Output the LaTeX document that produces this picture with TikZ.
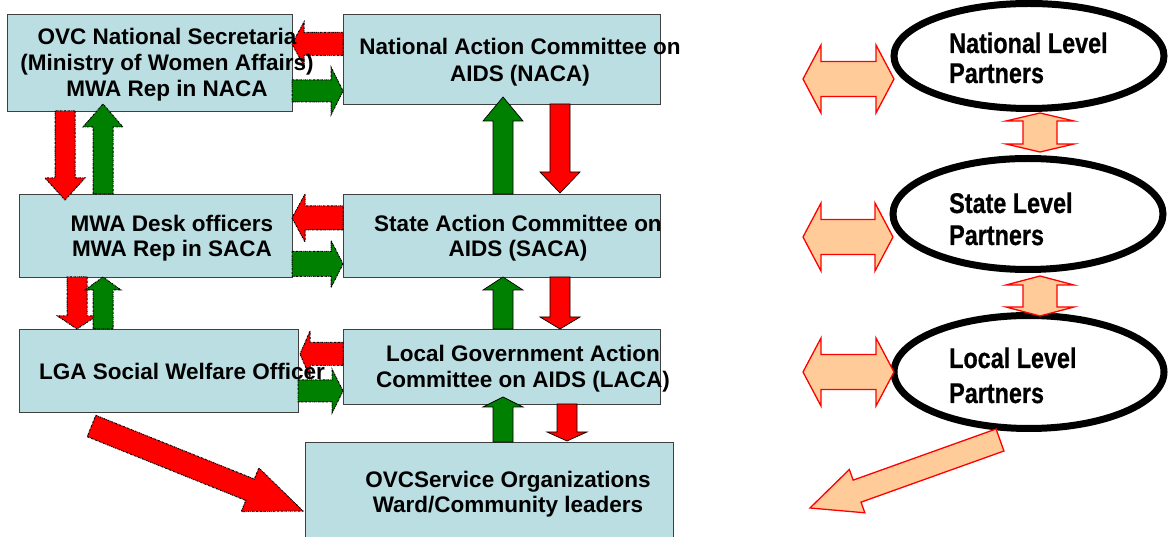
\documentclass[tikz,border=0pt]{standalone}
\usepackage{fontspec}
\setmainfont{Liberation Sans}
\newfontfamily\narrowsans[FakeStretch=0.82, BoldFeatures={FakeBold=0.6}]{Liberation Sans}
\usetikzlibrary{shapes.geometric,calc}

\definecolor{boxblue}{RGB}{186,222,226}
\definecolor{boxedge}{RGB}{64,64,64}
\definecolor{arrred}{RGB}{255,0,0}
\definecolor{arrgreen}{RGB}{0,128,0}
\definecolor{peach}{RGB}{255,204,153}

\newcommand\mlines[1]{\begin{tabular}[t]{@{}c@{}}#1\end{tabular}}
\newcommand\mlinesl[1]{\begin{tabular}[t]{@{}l@{}}#1\end{tabular}}

% block arrow: style, tail, tip, shaft half-width, head half-width, head length
\newcommand\blockarrow[6]{%
 \path[#1] let \p1=(#2), \p2=(#3),
   \n1={atan2(\y2-\y1,\x2-\x1)},
   \n2={veclen(\x2-\x1,\y2-\y1)-#6} in
   ($(\p1)+({\n1+90}:#4pt)$) --
   ($(\p1)+(\n1:\n2)+({\n1+90}:#4pt)$) --
   ($(\p1)+(\n1:\n2)+({\n1+90}:#5pt)$) --
   (\p2) --
   ($(\p1)+(\n1:\n2)+({\n1-90}:#5pt)$) --
   ($(\p1)+(\n1:\n2)+({\n1-90}:#4pt)$) --
   ($(\p1)+({\n1-90}:#4pt)$) -- cycle;}

% double block arrow
\newcommand\dblarrow[6]{%
 \path[#1] let \p1=(#2), \p2=(#3),
   \n1={atan2(\y2-\y1,\x2-\x1)},
   \n2={veclen(\x2-\x1,\y2-\y1)-#6} in
   (\p1) --
   ($(\p1)+(\n1:#6pt)+({\n1+90}:#5pt)$) --
   ($(\p1)+(\n1:#6pt)+({\n1+90}:#4pt)$) --
   ($(\p1)+(\n1:\n2)+({\n1+90}:#4pt)$) --
   ($(\p1)+(\n1:\n2)+({\n1+90}:#5pt)$) --
   (\p2) --
   ($(\p1)+(\n1:\n2)+({\n1-90}:#5pt)$) --
   ($(\p1)+(\n1:\n2)+({\n1-90}:#4pt)$) --
   ($(\p1)+(\n1:#6pt)+({\n1-90}:#4pt)$) --
   ($(\p1)+(\n1:#6pt)+({\n1-90}:#5pt)$) -- cycle;}

\tikzset{
  box/.style={draw=boxedge, line width=0.9pt, fill=boxblue, inner sep=0pt, outer sep=0pt},
  lbl/.style={font=\fontsize{22.5}{26}\selectfont\bfseries, inner sep=0pt, anchor=base},
  rlbl/.style={font=\narrowsans\fontsize{28.5}{#1}\selectfont\bfseries, inner sep=0pt, anchor=base west},
  dashdot/.style={draw=black, line width=1pt, dash pattern=on 1.8pt off 0.9pt on 0.6pt off 0.9pt},
  redarr/.style={fill=arrred, dashdot},
  greenarr/.style={fill=arrgreen, dashdot},
  redsolid/.style={fill=arrred, draw=black, line width=0.7pt},
  greensolid/.style={fill=arrgreen, draw=black, line width=0.7pt},
  peacharr/.style={fill=peach, draw=arrred, line width=1.3pt, line join=miter},
  partner/.style={ellipse, draw=black, line width=7pt, fill=white, inner sep=0pt, outer sep=0pt, minimum width=270pt},
}

\begin{document}
\begin{tikzpicture}[x=1pt, y=-1pt]
\useasboundingbox (0,0) rectangle (1171,537);

% boxes
\node[box, minimum width=285pt, minimum height=97pt] (ovc)  at (149.5,62.5) {};
\node[box, minimum width=317pt, minimum height=90pt] (naca) at (501.5,59) {};
\node[box, minimum width=273pt, minimum height=83pt] (mwa)  at (155.5,235.5) {};
\node[box, minimum width=317pt, minimum height=83pt] (saca) at (501.5,235.5) {};
\node[box, minimum width=279pt, minimum height=83pt] (lga)  at (158.5,370.5) {};
\node[box, minimum width=317pt, minimum height=75pt] (laca) at (501.5,366.5) {};
\node[box, minimum width=368pt, minimum height=103pt] (svc) at (489,493.5) {};

% horizontal arrows, left column
\blockarrow{redarr}{naca.west |- 0,44}{ovc.east |- 0,44}{11.5}{22}{12}
\blockarrow{greenarr}{ovc.east |- 0,91}{naca.west |- 0,91}{11}{24}{12}
\blockarrow{redarr}{saca.west |- 0,218}{mwa.east |- 0,218}{12}{24}{13}
\blockarrow{greenarr}{mwa.east |- 0,264}{saca.west |- 0,264}{12.5}{23.5}{12}
\blockarrow{redarr}{laca.west |- 0,354}{$(lga.east |- 0,354)+(2,0)$}{11.5}{23}{10}
\blockarrow{greenarr}{lga.east |- 0,391}{laca.west |- 0,391}{11}{22}{11}

% vertical arrows, left column
\blockarrow{redarr}{ovc.south -| 65,0}{$(mwa.north -| 65,0)+(0,6)$}{10}{20}{22}
\blockarrow{greenarr}{mwa.north -| 103,0}{$(ovc.south -| 103,0)+(0,-7)$}{10}{20}{23}
\blockarrow{redarr}{mwa.south -| 77,0}{lga.north -| 77,0}{10}{19.5}{13}
\blockarrow{greenarr}{lga.north -| 103,0}{mwa.south -| 103,0}{10}{18}{13}

% vertical arrows, right column
\blockarrow{greensolid}{saca.north -| 503,0}{$(naca.south -| 503,0)+(0,-7)$}{10}{20}{24}
\blockarrow{redsolid}{naca.south -| 560,0}{$(saca.north -| 560,0)+(0,-1)$}{10}{20}{21}
\blockarrow{greensolid}{laca.north -| 503,0}{saca.south -| 503,0}{10}{20}{13}
\blockarrow{redsolid}{saca.south -| 560,0}{laca.north -| 560,0}{10}{20}{12}
\blockarrow{greensolid}{svc.north -| 503,0}{$(laca.south -| 503,0)+(0,-7)$}{10}{20}{10}
\blockarrow{redsolid}{laca.south -| 567,0}{$(svc.north -| 567,0)+(0,-1)$}{10}{20}{9}

% diagonal red arrow
\blockarrow{redarr}{$(lga.south west)+(72.5,14)$}{$(svc.west |- 0,511)+(-2,0)$}{11.5}{23.5}{57}

% box texts
\node[lbl] (tovc) at (167,45) {\mlines{OVC National Secretaria\\(Ministry of Women Affairs)\\MWA Rep in NACA}};
\node[lbl, font=\fontsize{22.5}{27}\selectfont\bfseries] (tnaca) at (520,55) {\mlines{National Action Committee on\\AIDS (NACA)}};
\node[lbl, font=\fontsize{22.5}{25}\selectfont\bfseries] (tmwa) at (172,232) {\mlines{MWA Desk officers\\MWA Rep in SACA}};
\node[lbl, font=\fontsize{22.5}{25}\selectfont\bfseries] (tsaca) at (518,232) {\mlines{State Action Committee on\\AIDS (SACA)}};
\node[lbl] (tlga) at (182,380) {LGA Social Welfare Officer};
\node[lbl] (tlaca) at (523,362) {\mlines{Local Government Action\\Committee on AIDS (LACA)}};
\node[lbl, font=\fontsize{22.5}{25}\selectfont\bfseries] (tsvc) at (508,487) {\mlines{OVCService Organizations\\Ward/Community leaders}};

% partner ellipses
\node[partner, minimum height=105pt] (e1) at (1029,56) {};
\node[partner, minimum height=111pt] (e2) at (1028,214) {};
\node[partner, minimum height=113pt] (e3) at (1029,372) {};

\node[rlbl=30] (r1) at (949,53) {\mlinesl{National Level\\Partners}};
\node[rlbl=32] (r2) at (949,213) {\mlinesl{State Level\\Partners}};
\node[rlbl=35] (r3) at (949,368) {\mlinesl{Local Level\\Partners}};

% orange arrows
\coordinate (l1) at (803,79);
\coordinate (l2) at (803,237);
\coordinate (l3) at (803,372);
\dblarrow{peacharr}{l1}{e1.west |- 0,79}{17.5}{34}{18}
\dblarrow{peacharr}{l2}{e2.west |- 0,237}{17.5}{34}{18}
\dblarrow{peacharr}{l3}{e3.west}{17.5}{34}{18}
\dblarrow{peacharr}{$(e1.south -| 1040,0)+(0,4.5)$}{$(e2.north -| 1040,0)+(0,-6.5)$}{17}{34}{8}
\dblarrow{peacharr}{$(e2.south -| 1040,0)+(0,6.5)$}{$(e3.north -| 1040,0)+(0,0.5)$}{17}{34}{9}
\coordinate (ofree) at (810,508);
\blockarrow{peacharr}{$(e3.south)+(-29,11.5)$}{ofree}{11.7}{23}{50}
\end{tikzpicture}
\end{document}
